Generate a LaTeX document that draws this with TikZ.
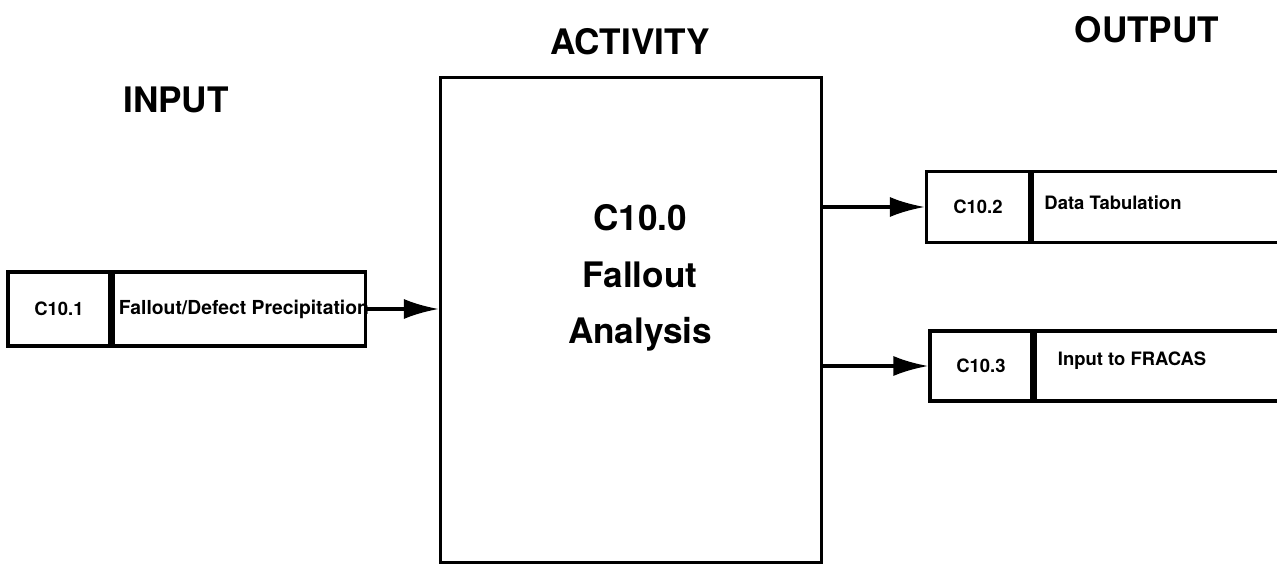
\documentclass[tikz,border=0pt]{standalone}
\usepackage{fontspec}
\setmainfont{TeX Gyre Heros}
\usetikzlibrary{arrows.meta}
\begin{document}
\begin{tikzpicture}[x=0.02cm,y=-0.02cm,
        box/.style={draw,line width=1.8pt,inner sep=0pt},
        code/.style={font=\bfseries\fontsize{10.5}{12}\selectfont},
        head/.style={font=\bfseries\fontsize{20}{24}\selectfont},
        flow/.style={line width=2pt,-{Latex[length=7mm,width=4mm]}}]
        %% NOTE: page frame
        \useasboundingbox (0,0) rectangle (1277,565);
        \clip (0,0) rectangle (1277,565);
        %% headings
        \node[head] (hin) at (176,100) {INPUT};
        \node[head] (hact) at (630,42) {ACTIVITY};
        \node[head] (hout) at (1147,30) {OUTPUT};
        %% activity
        \node[box,minimum width=7.62cm,minimum height=9.7cm] (act) at (631,320) {};
        \node[head,align=center,font=\bfseries\fontsize{20}{32}\selectfont] (acttxt) at (640,278)
            {C10.0\\Fallout\\Analysis};
        %% input
        \node[box,code,minimum width=2.04cm,minimum height=1.48cm] (c101) at (59,309) {C10.1};
        \node[box,minimum width=5.04cm,minimum height=1.48cm,anchor=west] (in1) at (c101.east) {};
        \node[code,anchor=west,inner sep=0pt,font=\bfseries\fontsize{11}{12}\selectfont] at ([xshift=0.14cm]in1.west) {Fallout/Defect Precipitation};
        %% outputs
        \node[box,code,minimum width=2.06cm,minimum height=1.42cm] (c102) at (978,207) {C10.2};
        \node[box,minimum width=5.5cm,minimum height=1.42cm,anchor=west] (out1) at (c102.east) {};
        \node[code,anchor=west,inner sep=0pt] at ([xshift=0.26cm,yshift=0.08cm]out1.west) {Data Tabulation};
        \node[box,code,minimum width=2.04cm,minimum height=1.4cm] (c103) at (981,366) {C10.3};
        \node[box,minimum width=5.5cm,minimum height=1.4cm,anchor=west] (out2) at (c103.east) {};
        \node[code,anchor=west,inner sep=0pt] at ([xshift=0.48cm,yshift=0.1cm]out2.west) {Input to FRACAS};
        %% arrows
        \draw[flow] (in1.east) -- (act.west |- in1.east);
        \draw[flow] (act.east |- c102.west) -- (c102.west);
        \draw[flow] (act.east |- c103.west) -- (c103.west);
    \end{tikzpicture}
\end{document}
